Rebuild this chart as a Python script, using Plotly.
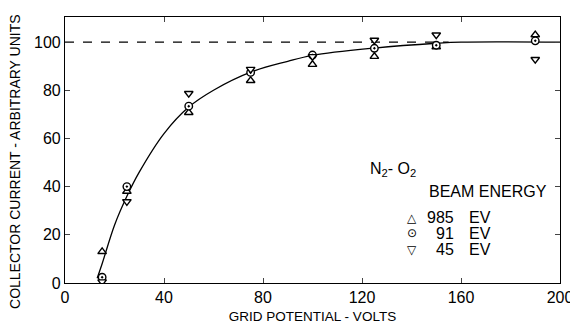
import plotly.graph_objects as go

# Data
grid_v = [15, 25, 50, 75, 100, 125, 150, 190]
i_985 = [13, 38, 70.7, 84, 90.7, 94, 98, 103]
i_91 = [2.4, 40, 73.4, 87.4, 94.6, 97.4, 98.7, 100.5]
i_45 = [0.5, 33.8, 78.7, 88.7, 94, 100.8, 103, 92.8]

curve_x = [13, 15, 20, 25, 30, 40, 50, 60, 75, 90, 100, 125, 150, 160, 200]
curve_y = [2, 8, 24, 36, 46, 62, 73, 80, 87.5, 92, 94.5, 97.5, 99.5, 100, 100]

ref_x = [0, 155]
ref_y = [100, 100]

x_ticks = [0, 40, 80, 120, 160, 200]
y_ticks = [0, 20, 40, 60, 80, 100]

legend_energies = ["985", "91", "45"]
legend_glyphs = ["\u25B3", "\u2299", "\u25BD"]

FONT = "Liberation Sans"
BLACK = "black"

fig = go.Figure()
fig.add_trace(go.Scatter(x=ref_x, y=ref_y, mode="lines",
                         line=dict(color=BLACK, width=1.2, dash="dash"),
                         showlegend=False, hoverinfo="skip"))
fig.add_trace(go.Scatter(x=curve_x, y=curve_y, mode="lines",
                         line=dict(color=BLACK, width=1.3, shape="spline", smoothing=1.0),
                         showlegend=False))
mk = dict(size=7.5, color="white", line=dict(color=BLACK, width=1.4))
fig.add_trace(go.Scatter(x=grid_v, y=i_985, mode="markers", name="985 EV",
                         marker=dict(symbol="triangle-up", **mk), showlegend=False))
fig.add_trace(go.Scatter(x=grid_v, y=i_91, mode="markers", name="91 EV",
                         marker=dict(symbol="circle-dot", **mk), showlegend=False))
fig.add_trace(go.Scatter(x=grid_v, y=i_45, mode="markers", name="45 EV",
                         marker=dict(symbol="triangle-down", **mk), showlegend=False))

fig.add_annotation(x=132.5, y=47, xref="x", yref="y",
                   text="N<sub>2</sub>- O<sub>2</sub>", showarrow=False,
                   font=dict(family=FONT, size=16, color=BLACK))

# legend block drawn as text
fig.add_annotation(x=146.3, y=37.8, xref="x", yref="y", xanchor="left",
                   text="BEAM ENERGY", showarrow=False,
                   font=dict(family=FONT, size=16, color=BLACK))
row_y = [27.0, 20.7, 13.7]
for g, e, ry in zip(legend_glyphs, legend_energies, row_y):
    fig.add_annotation(x=140.2, y=ry, xref="x", yref="y", xanchor="center",
                       text=g, showarrow=False,
                       font=dict(family="DejaVu Sans", size=12, color=BLACK))
    fig.add_annotation(x=158.0, y=ry, xref="x", yref="y", xanchor="right",
                       text=e, showarrow=False,
                       font=dict(family=FONT, size=16, color=BLACK))
    fig.add_annotation(x=162.4, y=ry, xref="x", yref="y", xanchor="left",
                       text="EV", showarrow=False,
                       font=dict(family=FONT, size=16, color=BLACK))

# y-axis title (placed like the original, offset below the plot centre)
fig.add_annotation(x=-0.101, y=0.455, xref="paper", yref="paper",
                   xanchor="center", yanchor="middle", textangle=-90,
                   text="COLLECTOR CURRENT - ARBITRARY UNITS", showarrow=False,
                   font=dict(family=FONT, size=14, color=BLACK))

fig.update_layout(
    width=570, height=316,
    margin=dict(l=57, r=18, t=9, b=41),
    paper_bgcolor="white", plot_bgcolor="white",
    font=dict(family=FONT, size=15, color=BLACK),
    showlegend=False,
    xaxis=dict(range=[0, 200], tickvals=x_ticks, ticks="inside", ticklen=5,
               showgrid=False, zeroline=False, showline=True, linecolor=BLACK,
               linewidth=1.2, mirror="ticks", automargin=False,
               tickfont=dict(size=16),
               title=dict(text="GRID POTENTIAL - VOLTS", font=dict(size=13.5), standoff=7)),
    yaxis=dict(range=[0, 110.4], tickvals=y_ticks, ticks="inside", ticklen=5,
               showgrid=False, zeroline=False, showline=True, linecolor=BLACK,
               linewidth=1.2, mirror="ticks", automargin=False,
               tickfont=dict(size=16)),
)

fig.write_html("out.html")
